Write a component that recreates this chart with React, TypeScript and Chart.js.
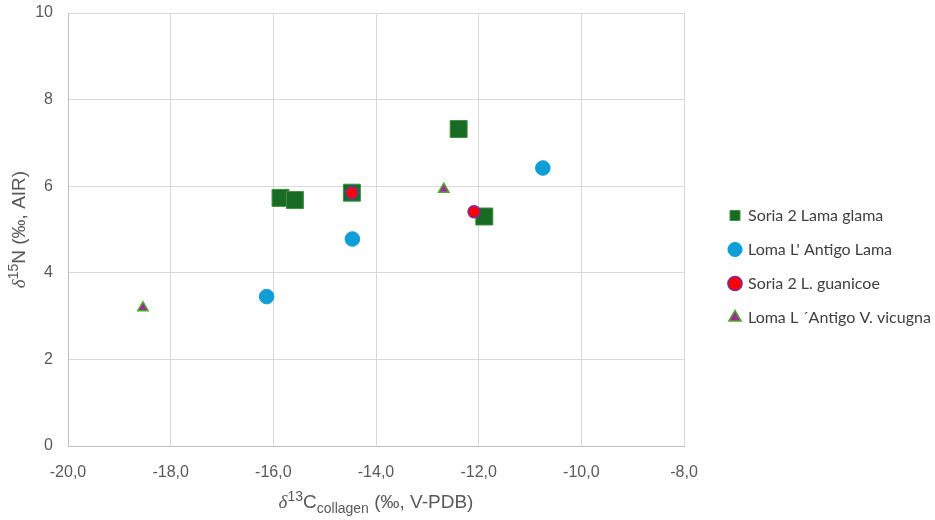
import { useEffect, useRef } from "react"
import { Chart, registerables } from "chart.js"

Chart.register(...registerables)

// ejes
const X_TICK_LABELS = ["-20,0", "-18,0", "-16,0", "-14,0", "-12,0", "-10,0", "-8,0"]
const Y_TICK_LABELS = ["0", "2", "4", "6", "8", "10"]

// series
const SERIES_NAMES = [
  "Soria 2 Lama glama",
  "Loma L' Antigo Lama",
  "Soria 2 L. guanicoe",
  "Loma L ´Antigo V. vicugna",
]

const soriaGlamaC = [-15.86, -15.58, -14.47, -12.39, -11.89]
const soriaGlamaN = [5.73, 5.68, 5.85, 7.32, 5.3]

const lomaLamaC = [-16.13, -14.46, -10.75]
const lomaLamaN = [3.45, 4.78, 6.42]

const soriaGuanC = [-14.47, -12.09]
const soriaGuanN = [5.85, 5.41]

const lomaVicC = [-18.54, -12.68]
const lomaVicN = [3.19, 5.93]

const toPoints = (xs: number[], ys: number[]) => xs.map((x, i) => ({ x, y: ys[i] }))

type Part = { t: string; kind?: "sup" | "sub" | "greek" }

const X_TITLE: Part[] = [
  { t: "δ", kind: "greek" },
  { t: "13", kind: "sup" },
  { t: "C" },
  { t: "collagen", kind: "sub" },
  { t: " (‰, V-PDB)" },
]
const Y_TITLE: Part[] = [
  { t: "δ", kind: "greek" },
  { t: "15", kind: "sup" },
  { t: "N (‰, AIR)" },
]

const TEXT_COLOR = "#595959"
const TITLE_SIZE = 19
const SANS = '"Liberation Sans", Arial, sans-serif'

function partFont(p: Part) {
  if (p.kind === "greek") return `italic ${TITLE_SIZE}px "Liberation Serif", serif`
  if (p.kind === "sup" || p.kind === "sub") return `${Math.round(TITLE_SIZE * 0.72)}px ${SANS}`
  return `${TITLE_SIZE}px ${SANS}`
}

// dibuja texto con super/subíndices centrado en (0,0)
function drawRich(ctx: CanvasRenderingContext2D, parts: Part[]) {
  const widths = parts.map((p) => {
    ctx.font = partFont(p)
    return ctx.measureText(p.t).width
  })
  const total = widths.reduce((a, b) => a + b, 0)
  let x = -total / 2
  ctx.textBaseline = "alphabetic"
  ctx.textAlign = "left"
  parts.forEach((p, i) => {
    ctx.font = partFont(p)
    let dy = 0
    if (p.kind === "sup") dy = -TITLE_SIZE * 0.38
    if (p.kind === "sub") dy = TITLE_SIZE * 0.25
    ctx.fillText(p.t, x, dy)
    x += widths[i]
  })
}

const axisTitles = {
  id: "axisTitles",
  afterDraw(chart: Chart) {
    const { ctx, chartArea } = chart
    ctx.save()
    ctx.fillStyle = TEXT_COLOR
    ctx.save()
    ctx.translate((chartArea.left + chartArea.right) / 2, 508)
    drawRich(ctx, X_TITLE)
    ctx.restore()
    ctx.save()
    ctx.translate(25, (chartArea.top + chartArea.bottom) / 2)
    ctx.rotate(-Math.PI / 2)
    drawRich(ctx, Y_TITLE)
    ctx.restore()
    ctx.restore()
  },
}

const LEGEND_WIDTH = 251
const LEGEND_SHIFT = 28

const legendPlacement = {
  id: "legendPlacement",
  beforeInit(chart: any) {
    const legend = chart.legend
    if (!legend) return
    const fit = legend.fit
    legend.fit = function () {
      fit.call(this)
      this.width = LEGEND_WIDTH
    }
  },
  afterLayout(chart: any) {
    const legend = chart.legend
    if (!legend) return
    legend.left += LEGEND_SHIFT
    legend.right += LEGEND_SHIFT
  },
}

export default function App() {
  const canvasRef = useRef<HTMLCanvasElement>(null)

  useEffect(() => {
    if (!canvasRef.current) return
    const chart = new Chart(canvasRef.current, {
      type: "scatter",
      data: {
        datasets: [
          {
            label: SERIES_NAMES[0],
            data: toPoints(soriaGlamaC, soriaGlamaN),
            pointStyle: "rect",
            pointRadius: 12,
            pointHoverRadius: 12,
            backgroundColor: "#196b24",
            borderColor: "#3f8f44",
            borderWidth: 1,
            order: 4,
          },
          {
            label: SERIES_NAMES[1],
            data: toPoints(lomaLamaC, lomaLamaN),
            pointStyle: "circle",
            pointRadius: 7.3,
            pointHoverRadius: 7.3,
            backgroundColor: "#0f9ed5",
            borderColor: "#0f9ed5",
            borderWidth: 1,
            order: 3,
          },
          {
            label: SERIES_NAMES[2],
            data: toPoints(soriaGuanC, soriaGuanN),
            pointStyle: "circle",
            pointRadius: 6,
            pointHoverRadius: 6,
            backgroundColor: "#ff0000",
            borderColor: "#7030a0",
            borderWidth: 1.5,
            order: 1,
          },
          {
            label: SERIES_NAMES[3],
            data: toPoints(lomaVicC, lomaVicN),
            pointStyle: "triangle",
            pointRadius: 6,
            pointHoverRadius: 6,
            backgroundColor: "#a02b93",
            borderColor: "#4ea72e",
            borderWidth: 1.5,
            order: 2,
          },
        ],
      },
      options: {
        responsive: true,
        maintainAspectRatio: false,
        animation: false,
        layout: { padding: { top: 13, left: 0, right: 0, bottom: 0 } },
        scales: {
          x: {
            type: "linear",
            min: -20,
            max: -8,
            afterFit: (scale: any) => {
              scale.height = 74
            },
            ticks: {
              stepSize: 2,
              padding: 17,
              color: TEXT_COLOR,
              font: { family: SANS, size: 16 },
              callback: (_v: any, i: number) => X_TICK_LABELS[i],
            },
            grid: { color: "#d9d9d9", drawTicks: false },
            border: { color: "#bfbfbf" },
          },
          y: {
            min: 0,
            max: 10,
            afterFit: (scale: any) => {
              scale.width = 68
              scale.paddingTop = 0
              scale.paddingBottom = 0
            },
            ticks: {
              stepSize: 2,
              padding: 15,
              color: TEXT_COLOR,
              font: { family: SANS, size: 16 },
              callback: (_v: any, i: number) => Y_TICK_LABELS[i],
            },
            grid: { color: "#d9d9d9", drawTicks: false },
            border: { color: "#bfbfbf" },
          },
        },
        plugins: {
          legend: {
            position: "right",
            labels: {
              usePointStyle: true,
              boxWidth: 10,
              boxHeight: 10,
              padding: 18,
              color: "#404040",
              font: { family: "Lato, sans-serif", size: 16 },
              sort: (a: any, b: any) => a.datasetIndex - b.datasetIndex,
            },
          },
          tooltip: { enabled: false },
        },
      },
      plugins: [legendPlacement, axisTitles],
    })
    return () => chart.destroy()
  }, [])

  return (
    <div style={{ position: "fixed", left: 0, top: 0, width: 935, height: 520, background: "#fff" }}>
      <canvas ref={canvasRef}></canvas>
    </div>
  )
}
